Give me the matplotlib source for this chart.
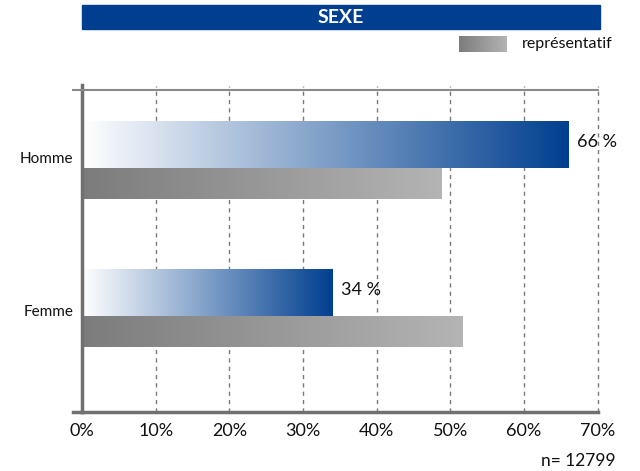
import numpy as np
import matplotlib.pyplot as plt
from matplotlib.colors import LinearSegmentedColormap
from matplotlib.patches import Rectangle

plt.rcParams['font.family'] = ['Lato', 'DejaVu Sans']

# données
categories = ['Homme', 'Femme']
echantillon = [66, 34]          # barres bleues
representatif = [48.8, 51.7]    # barres grises
etiquettes = ['66 %', '34 %']
graduations = [0, 10, 20, 30, 40, 50, 60, 70]
n_total = 12799

bleu = LinearSegmentedColormap.from_list('bleu', ['#ffffff', '#7f9fc8', '#003f8f'])
gris = LinearSegmentedColormap.from_list('gris', ['#7c7c7c', '#b4b4b4'])
degrade = np.linspace(0, 1, 256).reshape(1, -1)

fig = plt.figure(figsize=(6.4, 4.71), dpi=100)
ax = fig.add_axes([0.128, 0.1253, 0.806, 0.6837])

pos = np.arange(len(categories))
h_bleu, h_gris = 0.311, 0.209

# axe y inversé : hauteur négative = vers le haut
barres_b = ax.barh(pos, echantillon, height=-h_bleu, align='edge', color='none')
barres_g = ax.barh(pos, representatif, height=h_gris, align='edge', color='none')

# remplir chaque barre avec un dégradé
for barres, cmap in [(barres_b, bleu), (barres_g, gris)]:
    for b in barres:
        x0, y0, w, h = b.get_x(), b.get_y(), b.get_width(), b.get_height()
        ax.imshow(degrade, cmap=cmap, aspect='auto', interpolation='bilinear',
                  extent=(x0, x0 + w, y0 + h, y0), zorder=2)

for b, txt in zip(barres_b, etiquettes):
    ax.text(b.get_width() + 1.2, b.get_y() + b.get_height() / 2 - 0.02, txt,
            va='center', ha='left', fontsize=13, color='#111111')

ax.set_xlim(0, 70)
ax.set_ylim(1.649, -0.527)
ax.set_xticks(graduations)
ax.set_xticklabels([f'{g}%' for g in graduations], fontsize=13)
ax.set_yticks(pos - np.array([0.07, 0.035]))
ax.set_yticklabels(categories, fontsize=11)
ax.tick_params(axis='both', length=0, pad=8, colors='#111111')
ax.tick_params(axis='y', pad=6)

for g in graduations[1:]:
    ax.axvline(g, color='#7a7a7a', linestyle=(0, (3, 3)), linewidth=1, zorder=1,
               ymin=0, ymax=1.012, clip_on=False)

ax.spines['right'].set_visible(False)
ax.spines['left'].set_color('#707070')
ax.spines['left'].set_linewidth(2.5)
ax.spines['bottom'].set_color('#707070')
ax.spines['bottom'].set_linewidth(2.5)
ax.spines['top'].set_color('#8a8a8a')
ax.spines['top'].set_linewidth(1.5)
# petits débords à gauche
ax.plot([-1.2, 0], [1, 1], transform=ax.get_xaxis_transform(), color='#8a8a8a',
        lw=1.5, clip_on=False)
ax.plot([-1.2, 0], [0, 0], transform=ax.get_xaxis_transform(), color='#707070',
        lw=2.5, clip_on=False)
ax.spines['left'].set_bounds(1.649, -0.56)

# bandeau de titre
fig.patches.append(Rectangle((0.128, 0.938), 0.81, 0.051, transform=fig.transFigure,
                             color='#003f8f', zorder=0))
fig.text(0.533, 0.9635, 'SEXE', color='white', fontsize=14, fontweight='bold',
         ha='center', va='center')

# légende
lax = fig.add_axes([0.717, 0.89, 0.075, 0.034])
lax.imshow(degrade, cmap=gris, aspect='auto', interpolation='bilinear')
lax.axis('off')
fig.text(0.815, 0.907, 'représentatif', fontsize=11.5, va='center', ha='left', color='#111111')

fig.text(0.962, 0.004, f'n= {n_total}', fontsize=12.5, ha='right', va='bottom', color='#111111')

fig.savefig('out.png', dpi=100)
